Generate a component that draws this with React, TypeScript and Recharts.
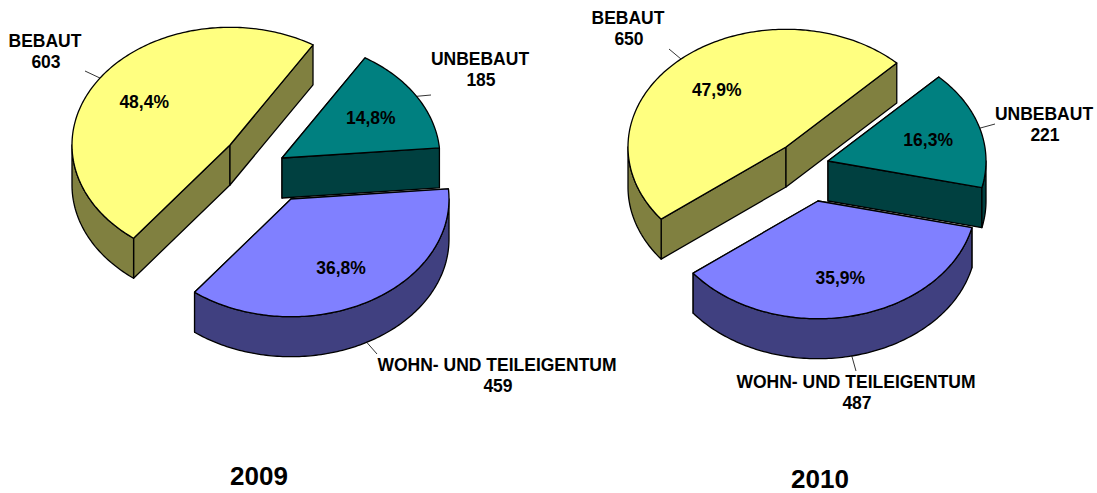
import React from "react";
import { PieChart, Pie } from "recharts";

const categories = ["WOHN- UND TEILEIGENTUM", "BEBAUT", "UNBEBAUT"];
const values2009 = [459, 603, 185];
const values2010 = [487, 650, 221];
const topColors = ["#8080ff", "#ffff80", "#008080"];
const wallColors = ["#404080", "#808040", "#004040"];

const FONT = "'Liberation Sans', Arial, sans-serif";
const SQUASH = 0.745;
const DEPTH = 40;

// layout of the two exploded pies, slice order follows categories
const layout2009 = {
  cx: 259,
  cy: 165,
  startAngle: 4.9,
  shift: [[32, 34], [-29, -20], [23, -7]],
  text: [[497, 365], [45, 41], [480, 59]],
  leaderEnd: [[377, 354], [85, 71], [431, 95]],
  title: "2009",
  titlePos: [259, 485],
};
const layout2010 = {
  cx: 810,
  cy: 170,
  startAngle: -13.1,
  shift: [[8, 31], [-24, -23], [18, -9]],
  text: [[856, 382], [628, 18], [1044, 114]],
  leaderEnd: [[856, 371], [669, 49], [995, 124]],
  title: "2010",
  titlePos: [820, 487.5],
};

const toRows = (values: number[]) =>
  categories.map((name, i) => ({ name, value: values[i], fill: topColors[i] }));

const rad = (a: number) => (a * Math.PI) / 180;

function makeSlice(shift: number[][]) {
  return function Slice(props: any) {
    const { cx, cy, outerRadius, startAngle, endAngle, index } = props;
    const rx = outerRadius;
    const ry = rx * SQUASH;
    const ox = cx + shift[index][0];
    const oy = cy + shift[index][1];
    const pt = (a: number, drop = 0) => [ox + rx * Math.cos(rad(a)), oy - ry * Math.sin(rad(a)) + drop];
    const hi = Math.max(startAngle, endAngle);
    const lo = Math.min(startAngle, endAngle);

    const arc = (from: number, to: number, drop = 0) => {
      const pts: number[][] = [];
      for (let a = from; a > to; a -= 1) pts.push(pt(a, drop));
      pts.push(pt(to, drop));
      return pts;
    };
    const d = (pts: number[][]) =>
      "M" + pts.map((p) => `${p[0].toFixed(2)},${p[1].toFixed(2)}`).join("L") + "Z";

    const wall = wallColors[index];
    const line = { stroke: "#000", strokeWidth: 1.3, strokeLinejoin: "round" as const };
    const faceStart = [[ox, oy], pt(hi), pt(hi, DEPTH), [ox, oy + DEPTH]];
    const faceEnd = [[ox, oy], pt(lo), pt(lo, DEPTH), [ox, oy + DEPTH]];

    // the front half of the rim shows, angles run down past -360 on the last slices
    const rims = [0, -360]
      .map((turn) => [Math.min(hi, turn), Math.max(lo, turn - 180)])
      .filter(([from, to]) => from > to);

    return (
      <g>
        <path d={d(faceStart)} fill={wall} {...line} />
        <path d={d(faceEnd)} fill={wall} {...line} />
        {rims.map(([from, to]) => (
          <path
            key={from}
            d={d([...arc(from, to), ...arc(from, to, DEPTH).reverse()])}
            fill={wall}
            {...line}
          />
        ))}
        <path d={d([[ox, oy], ...arc(hi, lo)])} fill={topColors[index]} {...line} />
      </g>
    );
  };
}

function makeLabel(cfg: typeof layout2009) {
  return function SliceLabel(props: any) {
    const { cx, cy, outerRadius, midAngle, percent, value, name, index } = props;
    const rx = outerRadius;
    const ry = rx * SQUASH;
    const ox = cx + cfg.shift[index][0];
    const oy = cy + cfg.shift[index][1];
    const c = Math.cos(rad(midAngle));
    const s = Math.sin(rad(midAngle));
    const edgeDrop = s < 0 ? DEPTH : 0;
    const [tx, ty] = cfg.text[index];
    const [ex, ey] = cfg.leaderEnd[index];
    const common = { fontFamily: FONT, fontWeight: 700, fontSize: 17.5, fill: "#000", textAnchor: "middle" as const };
    return (
      <g>
        <line x1={ox + rx * c} y1={oy - ry * s + edgeDrop} x2={ex} y2={ey} stroke="#000" strokeWidth={0.8} />
        <text x={ox + rx * 0.66 * c} y={oy - ry * 0.66 * s} dy={7} {...common}>
          {(percent * 100).toFixed(1).replace(".", ",") + "%"}
        </text>
        <text x={tx} y={ty} dy={6} {...common}>{name}</text>
        <text x={tx + 1} y={ty + 21} dy={6} {...common}>{value}</text>
      </g>
    );
  };
}

function ExplodedPie({ cfg, values }: { cfg: typeof layout2009; values: number[] }) {
  return (
    <Pie
      data={toRows(values)}
      dataKey="value"
      nameKey="name"
      cx={cfg.cx}
      cy={cfg.cy}
      outerRadius={158}
      startAngle={cfg.startAngle}
      endAngle={cfg.startAngle - 360}
      shape={makeSlice(cfg.shift)}
      label={makeLabel(cfg)}
      labelLine={false}
      isAnimationActive={false}
    />
  );
}

export default function App() {
  return (
    <div style={{ position: "absolute", left: 0, top: 0, width: 1097, height: 493, background: "#fff" }}>
      <PieChart width={1097} height={493} margin={{ top: 0, right: 0, bottom: 0, left: 0 }}>
        {ExplodedPie({ cfg: layout2009, values: values2009 })}
        {ExplodedPie({ cfg: layout2010, values: values2010 })}
        {[layout2009, layout2010].map((l) => (
          <text
            key={l.title}
            x={l.titlePos[0]}
            y={l.titlePos[1]}
            textAnchor="middle"
            fontFamily={FONT}
            fontWeight={700}
            fontSize={26}
          >
            {l.title}
          </text>
        ))}
      </PieChart>
    </div>
  );
}
